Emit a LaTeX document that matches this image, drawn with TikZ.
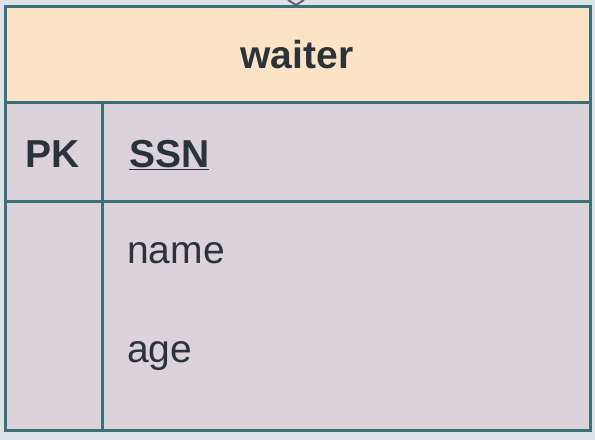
\documentclass[tikz,border=0pt]{standalone}
\usepackage{fontspec}
\setmainfont{Liberation Sans}
\usepackage{tikz}

\definecolor{paper}{HTML}{DCE2E5}
\definecolor{headfill}{HTML}{FCE3C6}
\definecolor{bodyfill}{HTML}{DCD2DA}
\definecolor{rim}{HTML}{3A7078}
\definecolor{ink}{HTML}{2B333A}
\definecolor{linkink}{HTML}{6E5A74}

\tikzset{
  rimline/.style={draw=rim, line width=3pt},
  colname/.style={ink, inner sep=0pt, font=\fontsize{39}{47}\selectfont},
  colkey/.style={colname, font=\fontsize{39}{47}\selectfont\bfseries}
}

\begin{document}
\begin{tikzpicture}[x=1pt, y=-1pt]
    \useasboundingbox [fill=paper] (0, 0) rectangle (595, 440);
    % link from above
    \coordinate (l1) at (288, 0);
    \coordinate (l2) at (304, 0);
    \coordinate (lf) at (296, 5);
    \draw [linkink, line width=2pt] (l1) -- (lf) -- (l2);
    % header
    \draw [rimline, fill=headfill]  (5, 6) rectangle (590, 102);
    \node [colkey, anchor=base]       (title) at (297, 68) {waiter};
    % body
    \draw [rimline, fill=bodyfill]  (5, 102) rectangle (590, 430);
    \draw [rimline]                 (5, 201) -- (590, 201);
    \draw [rimline]                 (102, 102) -- (102, 430);
    % key row
    \node [colkey, anchor=base west]  (pk) at (25, 167) {PK};
    \node [colkey, anchor=base west]  (ssn) at (129, 167) {\underline{SSN}};
    % attributes
    \node [colname, anchor=base west] (name) at (127, 263) {name};
    \node [colname, anchor=base west] (age) at (127, 362) {age};
\end{tikzpicture}
\end{document}
